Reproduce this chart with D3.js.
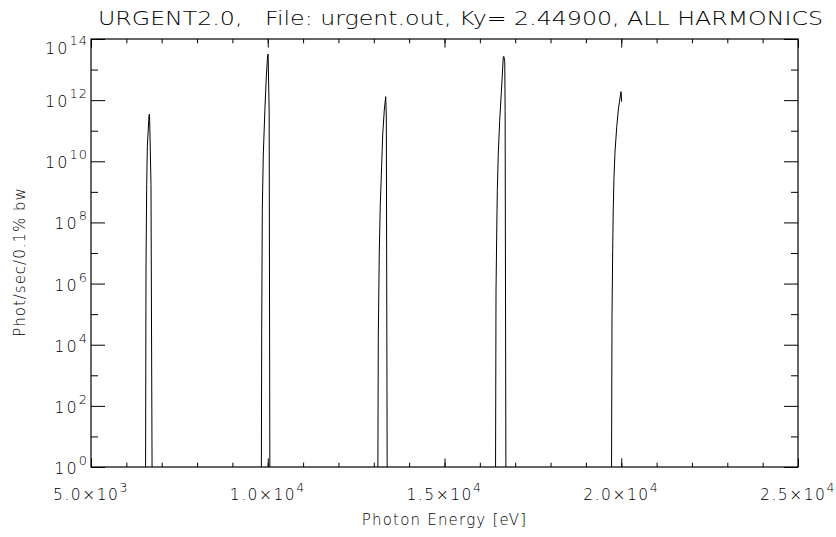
<!DOCTYPE html>
<style>
  body { margin: 0; background: #fff; }
  text { font-family: "DejaVu Sans", sans-serif; font-weight: 200; fill: #000; }
</style>
<svg width="836" height="537"></svg>
<script src="https://d3js.org/d3.v7.min.js"></script>
<script>

var svg = d3.select("svg"),
    width = +svg.attr("width"),
    height = +svg.attr("height");

// photon energy [eV] and flux [phot/sec/0.1% bw]; 1e-2 stands for "below the plot"
var energy = [5000,
  6540, 6556, 6576, 6593, 6641, 6655, 6669, 6697, 6734,
  9815, 9829, 9846, 9874, 9922, 9959, 9998, 10010, 10033, 10040, 10063,
  13110, 13127, 13155, 13183, 13223, 13251, 13297, 13337, 13354, 13382,
  16440, 16457, 16477, 16494, 16522, 16562, 16607, 16663, 16680, 16705, 16715, 16740,
  19720, 19738, 19758, 19775, 19795, 19823, 19871, 19917, 19956, 19993, 20013];

var flux = [1e-2,
  1e-2, 3.5e6, 1.7e9, 3.0e10, 3.2e11, 3.5e11, 7.2e10, 1.7e9, 1e-2,
  1e-2, 3.0e4, 2.6e8, 1.6e10, 6.0e11, 5.8e12, 3.0e13, 3.2e13, 1.2e12, 3.8e11, 1e-2,
  1e-2, 1.8e4, 1.0e7, 3.7e8, 7.6e9, 7.2e10, 4.8e11, 1.3e12, 3.0e11, 1e-2,
  1e-2, 5.4e5, 4.5e7, 1.1e9, 1.9e10, 2.2e11, 1.7e12, 2.6e13, 2.7e13, 1.8e13, 4.2e11, 1e-2,
  1e-2, 7.4e4, 1.3e7, 3.2e8, 3.1e9, 2.0e10, 1.3e11, 4.8e11, 1.0e12, 1.9e12, 8.9e11];

var xMajor = [5000, 10000, 15000, 20000, 25000];
var xLabels = [["5.0", "3"], ["1.0", "4"], ["1.5", "4"], ["2.0", "4"], ["2.5", "4"]];
var xMinor = d3.range(5000, 25001, 1000);
var yMajorExp = [0, 2, 4, 6, 8, 10, 12, 14];
var yMinorExp = [1, 3, 5, 7, 9, 11, 13];

var title = "URGENT2.0,   File: urgent.out, Ky= 2.44900, ALL HARMONICS";
var xTitle = "Photon Energy [eV]";
var yTitle = "Phot/sec/0.1% bw";

var pL = 91, pR = 798, pT = 39, pB = 467;

var x = d3.scaleLinear().domain([5000, 25000]).range([pL, pR]);
var y = d3.scaleLog().domain([1, 1e14]).range([pB, pT]);

svg.append("defs").append("clipPath").attr("id", "plotclip")
  .append("rect")
    .attr("x", pL).attr("y", pT)
    .attr("width", pR - pL).attr("height", pB - pT);

// spectrum
svg.append("path")
    .datum(d3.zip(energy, flux))
    .attr("clip-path", "url(#plotclip)")
    .attr("fill", "none")
    .attr("stroke", "#000")
    .attr("stroke-width", 1)
    .attr("d", d3.line()
      .x(function(d) { return x(d[0]); })
      .y(function(d) { return y(d[1]); }));

// ticks (inward, on all four sides)
function ticks(axis, vals, size, tr) {
  var g = svg.append("g")
      .attr("transform", tr)
      .call(axis.tickValues(vals).tickSize(size).tickFormat(""));
  g.select(".domain").remove();
  g.selectAll("line").attr("stroke", "#000");
}
var yMaj = yMajorExp.map(function(e) { return Math.pow(10, e); });
var yMin = yMinorExp.map(function(e) { return Math.pow(10, e); });

ticks(d3.axisTop(x), xMajor, 8.6, "translate(0," + pB + ")");
ticks(d3.axisTop(x), xMinor, 4.3, "translate(0," + pB + ")");
ticks(d3.axisBottom(x), xMajor, 8.6, "translate(0," + pT + ")");
ticks(d3.axisBottom(x), xMinor, 4.3, "translate(0," + pT + ")");
ticks(d3.axisRight(y), yMaj, 14, "translate(" + pL + ",0)");
ticks(d3.axisRight(y), yMin, 7, "translate(" + pL + ",0)");
ticks(d3.axisLeft(y), yMaj, 14, "translate(" + pR + ",0)");
ticks(d3.axisLeft(y), yMin, 7, "translate(" + pR + ",0)");

svg.append("rect")
    .attr("x", pL).attr("y", pT)
    .attr("width", pR - pL).attr("height", pB - pT)
    .attr("fill", "none")
    .attr("stroke", "#000")
    .attr("stroke-width", 1.2);

// y tick labels
var yl = svg.append("g").selectAll("text")
  .data(yMajorExp)
  .enter().append("text")
    .attr("x", pL - 3)
    .attr("y", function(d) { return y(Math.pow(10, d)) + (d === 14 ? 15 : 7); })
    .attr("text-anchor", "end")
    .style("font-size", "16px")
    .style("letter-spacing", "2px");
yl.append("tspan").text("10");
yl.append("tspan").attr("dy", -9).style("font-size", "13px").style("letter-spacing", "1px").text(function(d) { return d; });

// x tick labels
var xl = svg.append("g").selectAll("text")
  .data(xMajor)
  .enter().append("text")
    .attr("x", function(d) { return x(d); })
    .attr("y", 500)
    .attr("text-anchor", "middle")
    .style("font-size", "15.5px")
    .style("letter-spacing", "1.5px");
xl.append("tspan").text(function(d, i) { return xLabels[i][0] + "\u00d710"; });
xl.append("tspan").attr("dy", -8).style("font-size", "12.5px").text(function(d, i) { return xLabels[i][1]; });

svg.append("text")
    .attr("x", 98)
    .attr("y", 25)
    .attr("textLength", 725)
    .attr("lengthAdjust", "spacingAndGlyphs")
    .style("font-size", "19px")
    .style("white-space", "pre")
    .text(title);

svg.append("text")
    .attr("x", (pL + pR) / 2)
    .attr("y", 525)
    .attr("text-anchor", "middle")
    .style("font-size", "15px")
    .style("letter-spacing", "1.2px")
    .text(xTitle);

svg.append("text")
    .attr("transform", "translate(25,262) rotate(-90)")
    .attr("text-anchor", "middle")
    .style("font-size", "15px")
    .style("letter-spacing", "1px")
    .text(yTitle);

</script>
